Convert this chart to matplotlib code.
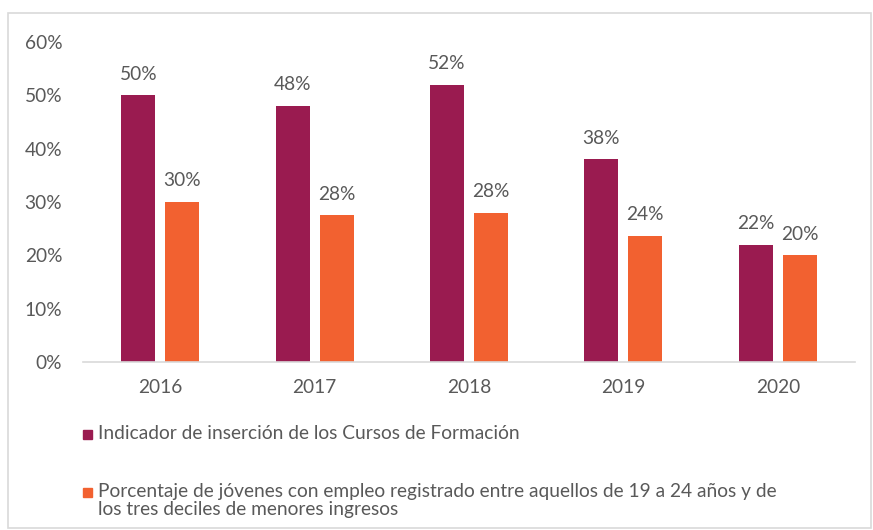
import matplotlib
matplotlib.use("Agg")
import matplotlib.pyplot as plt
from matplotlib.patches import Rectangle
import numpy as np

years = ["2016", "2017", "2018", "2019", "2020"]
insercion = [0.50, 0.48, 0.52, 0.38, 0.22]
insercion_labels = ["50%", "48%", "52%", "38%", "22%"]
empleo = [0.30, 0.275, 0.28, 0.237, 0.20]
empleo_labels = ["30%", "28%", "28%", "24%", "20%"]
series_names = [
    "Indicador de inserción de los Cursos de Formación",
    "Porcentaje de jóvenes con empleo registrado entre aquellos de 19 a 24 años y de\nlos tres deciles de menores ingresos",
]
yticks = [0, 0.1, 0.2, 0.3, 0.4, 0.5, 0.6]
ytick_labels = ["0%", "10%", "20%", "30%", "40%", "50%", "60%"]

PURPLE = "#9A1B50"
ORANGE = "#F26130"
TEXT = "#595959"
FS = 13.8
plt.rcParams['font.family'] = ['Lato', 'DejaVu Sans']

W, H = 873, 530
fig = plt.figure(figsize=(W / 100, H / 100), dpi=100)
fig.patches.append(Rectangle((8 / W, 2 / H), 863 / W, 515 / H, transform=fig.transFigure,
                             fill=False, edgecolor="#D9D9D9", linewidth=1.2))

ax = fig.add_axes([83 / W, (H - 362) / H, (855 - 83) / W, (362 - 42) / H])
x = np.arange(len(years))
bw = 0.22
off = 0.142
b1 = ax.bar(x - off, insercion, bw, color=PURPLE)
b2 = ax.bar(x + off, empleo, bw, color=ORANGE)
for bars, labs in ((b1, insercion_labels), (b2, empleo_labels)):
    for b, l in zip(bars, labs):
        ax.annotate(l, (b.get_x() + b.get_width() / 2, b.get_height()), xytext=(0, 9),
                    textcoords="offset points", ha="center", va="bottom", fontsize=FS, color=TEXT)

ax.set_xlim(-0.5, 4.5)
ax.set_ylim(0, 0.6)
ax.set_xticks(x)
ax.set_xticklabels(years)
ax.set_yticks(yticks)
ax.set_yticklabels(ytick_labels)
for s in ("top", "right", "left"):
    ax.spines[s].set_visible(False)
ax.spines["bottom"].set_color("#D9D9D9")
ax.spines["bottom"].set_linewidth(1.2)
ax.tick_params(axis="both", length=0, colors=TEXT, labelsize=FS)
ax.tick_params(axis="y", pad=15)
ax.tick_params(axis="x", pad=12)

# legend
colors = [PURPLE, ORANGE]
ys = [435, 493]
for c, yy, name in zip(colors, ys, series_names):
    fig.patches.append(Rectangle((83 / W, (H - yy - 4) / H), 9 / W, 9 / H, transform=fig.transFigure,
                                 color=c))
    fig.text(98 / W, (H - yy + 10) / H, name, ha="left", va="top", fontsize=FS, color=TEXT,
             linespacing=1.08)

fig.savefig("out.png", dpi=100)
